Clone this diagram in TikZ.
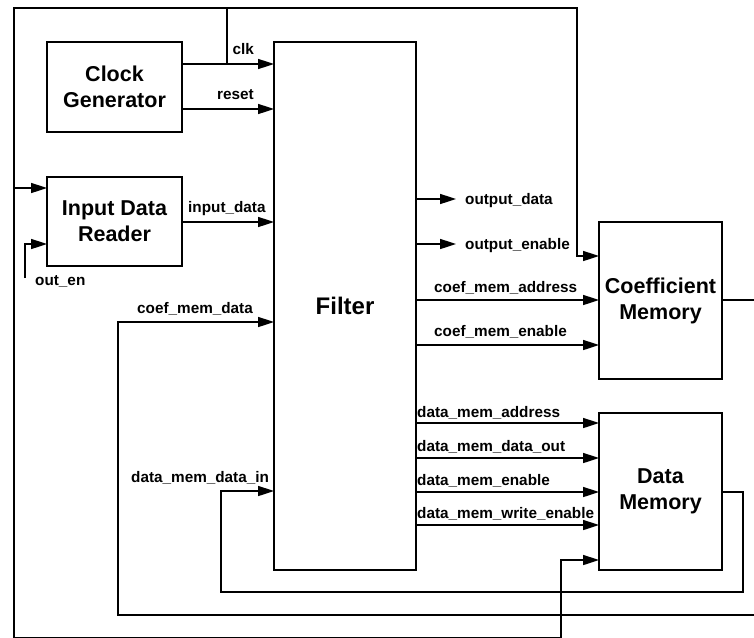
\documentclass[tikz,border=0pt]{standalone}
\usepackage{fontspec}
\setmainfont{Liberation Sans}
\usetikzlibrary{arrows.meta}

\begin{document}
\begin{tikzpicture}[x=1pt,y=-1pt,
  wire/.style={line width=1.6pt},
  arr/.style={wire,-{Triangle[length=16pt,width=10pt]}},
  blk/.style={draw,line width=1.6pt,inner sep=0pt,outer sep=0pt,align=center,
              font=\fontsize{21.5}{26}\selectfont\bfseries},
  lbl/.style={inner sep=0pt,font=\fontsize{15.3}{18}\selectfont\bfseries}]
\useasboundingbox (0,0) rectangle (754,637);

% blocks
\node[blk,minimum width=135pt,minimum height=90pt] (clkgen) at (114.5,87) {Clock\\Generator};
\node[blk,minimum width=135pt,minimum height=89pt] (reader) at (114.5,221.5) {Input Data\\Reader};
\node[blk,minimum width=142pt,minimum height=528pt,font=\fontsize{24}{28}\selectfont\bfseries] (filter) at (345,306) {Filter};
\node[blk,minimum width=123pt,minimum height=157pt] (coefmem) at (660.5,300.5) {Coefficient\\Memory};
\node[blk,minimum width=123pt,minimum height=157pt] (datamem) at (660.5,491.5) {Data\\Memory};

% clock generator to filter
\coordinate (clkj) at (227,64);
\draw[arr] (clkgen.east |- 0,64) -- (filter.west |- 0,64);
\draw[arr] (clkgen.east |- 0,109) -- (filter.west |- 0,109);
\node[lbl,anchor=base east] (lclk) at (254,54) {clk};
\node[lbl,anchor=base east] (lrst) at (254,99) {reset};

% clock distribution around the blocks
\draw[arr] (clkj) |- (577,8) |- (coefmem.west |- 0,256);
\draw[arr] (clkj) |- (14,8) -- (14,637.5) -| (561,560) -- (datamem.west |- 0,560);
\draw[arr] (14,188) -- (reader.west |- 0,188);

% reader enable input
\coordinate (oen) at (25,278);
\draw[arr] (oen) |- (reader.west |- 0,244);
\node[lbl,anchor=base west] (loen) at (35,285) {out\_en};

% input data
\draw[arr] (reader.east |- 0,222) -- (filter.west |- 0,222);
\node[lbl,anchor=base west] (lin) at (188,212) {input\_data};

% coefficient memory read data back to filter
\draw[arr] (coefmem.east |- 0,300) -- (770,300) -- (770,615) -| (118,322) -- (filter.west |- 0,322);
\node[lbl,anchor=base west] (lcmd) at (137,313) {coef\_mem\_data};

% data memory read data back to filter
\draw[arr] (datamem.east |- 0,492) -- (743,492) |- (221,592) |- (filter.west |- 0,491);
\node[lbl,anchor=base west] (ldmi) at (131,482) {data\_mem\_data\_in};

% filter outputs
\coordinate (od) at (456,199);
\coordinate (oe) at (456,244);
\draw[arr] (filter.east |- 0,199) -- (od);
\draw[arr] (filter.east |- 0,244) -- (oe);
\node[lbl,anchor=base west] (lod) at (465,204) {output\_data};
\node[lbl,anchor=base west] (loe) at (465,249) {output\_enable};

% coefficient memory control
\draw[arr] (filter.east |- 0,300) -- (coefmem.west |- 0,300);
\draw[arr] (filter.east |- 0,345) -- (coefmem.west |- 0,345);
\node[lbl,anchor=base west] (lcma) at (434,292) {coef\_mem\_address};
\node[lbl,anchor=base west] (lcme) at (434,336) {coef\_mem\_enable};

% data memory control
\draw[arr] (filter.east |- 0,423) -- (datamem.west |- 0,423);
\draw[arr] (filter.east |- 0,458) -- (datamem.west |- 0,458);
\draw[arr] (filter.east |- 0,492) -- (datamem.west |- 0,492);
\draw[arr] (filter.east |- 0,525) -- (datamem.west |- 0,525);
\node[lbl,anchor=base west] (ldma) at (417,417) {data\_mem\_address};
\node[lbl,anchor=base west] (ldmo) at (417,451) {data\_mem\_data\_out};
\node[lbl,anchor=base west] (ldme) at (417,485) {data\_mem\_enable};
\node[lbl,anchor=base west] (ldmw) at (417,518) {data\_mem\_write\_enable};
\end{tikzpicture}
\end{document}
